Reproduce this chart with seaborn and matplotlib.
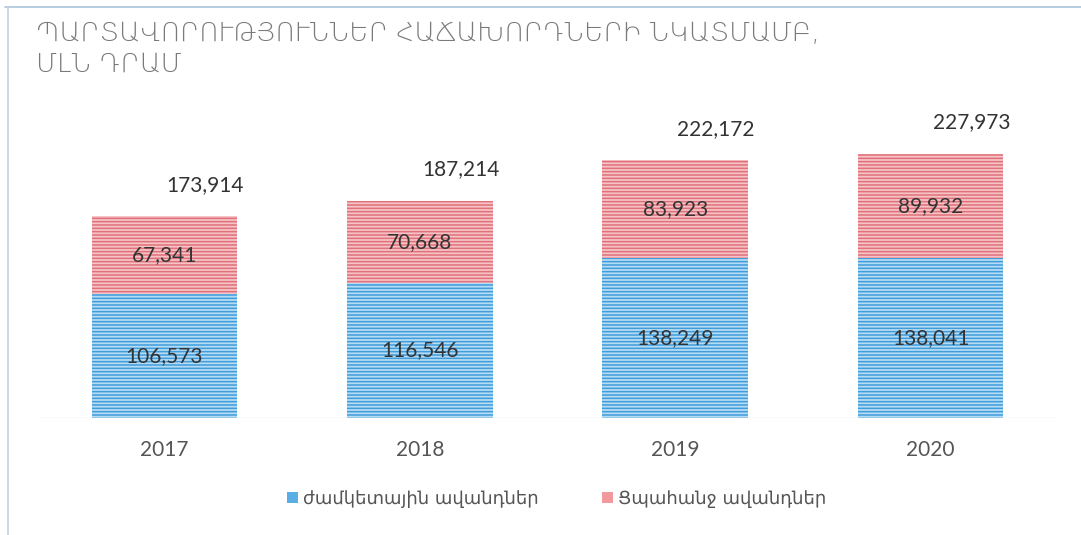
import matplotlib
matplotlib.use("Agg")
import matplotlib.pyplot as plt
from matplotlib.patches import Patch
from matplotlib.lines import Line2D
import pandas as pd
import seaborn as sns

years = ["2017", "2018", "2019", "2020"]
term_deposits = [106573, 116546, 138249, 138041]
demand_deposits = [67341, 70668, 83923, 89932]
totals = [173914, 187214, 222172, 227973]

title = "ՊԱՐՏԱՎՈՐՈՒԹՅՈՒՆՆԵՐ ՀԱՃԱԽՈՐԴՆԵՐԻ ՆԿԱՏՄԱՄԲ,\nՄԼՆ ԴՐԱՄ"
series_names = ["ժամկետային ավանդներ", "Ցպահանջ ավանդներ"]

df = pd.DataFrame({"year": years, "term": term_deposits,
                   "demand": demand_deposits, "total": totals})

sns.set_theme(style="white")
plt.rcParams["font.family"] = ["DejaVu Sans"]
plt.rcParams["hatch.linewidth"] = 1.1

fig = plt.figure(figsize=(10.81, 5.35), dpi=100)
ax = fig.add_axes([0.034, 0.2187, 0.945, 0.594])

# red = whole stack, blue drawn over it
sns.barplot(data=df, x="year", y="total", ax=ax, color="#f6c3c6",
            width=0.57, hatch="-----", edgecolor="#e0707a", linewidth=0,
            saturation=1)
sns.barplot(data=df, x="year", y="term", ax=ax, color="#b6dcf4",
            width=0.57, hatch="-----", edgecolor="#3f9ddc", linewidth=0,
            saturation=1)

num_font = ["Lato", "DejaVu Sans"]
for i, row in df.iterrows():
    ax.text(i, row["term"] / 2, f"{row['term']:,}", ha="center", va="center",
            fontsize=15, color="#333333", family=num_font)
    ax.text(i, row["term"] + row["demand"] / 2, f"{row['demand']:,}",
            ha="center", va="center", fontsize=15, color="#333333", family=num_font)
    ax.text(i + 0.16, row["total"] + 27000, f"{row['total']:,}", ha="center",
            va="center", fontsize=15, color="#333333", family=num_font)

ax.axhline(0, color="#e6e6e6", lw=1)
ax.set_xlim(-0.5, 3.5)
ax.set_ylim(0, 274000)
ax.set_yticks([])
ax.set_xlabel("")
ax.set_ylabel("")
ax.tick_params(axis="x", length=0, pad=16, labelsize=15, labelcolor="#555555")
for lab in ax.get_xticklabels():
    lab.set_family(num_font)
sns.despine(ax=ax, left=True, bottom=True)

fig.text(0.033, 0.96, title, ha="left", va="top", fontsize=19,
         color="#7a7a7a", linespacing=1.25, fontweight="light")

handles = [Patch(facecolor="#5aaee6", edgecolor="none"),
           Patch(facecolor="#f2999c", edgecolor="none")]
fig.legend(handles, series_names, loc="center", bbox_to_anchor=(0.515, 0.068),
           ncol=2, frameon=False, fontsize=13, handlelength=0.6,
           handleheight=0.6, handletextpad=0.3, columnspacing=3.5,
           labelcolor="#555555")

fig.add_artist(Line2D([5 / 1081, 1], [1 - 7 / 535, 1 - 7 / 535],
                      transform=fig.transFigure, color="#a9c4da", lw=1.2))
fig.add_artist(Line2D([8 / 1081, 8 / 1081], [0, 1 - 7 / 535],
                      transform=fig.transFigure, color="#c4d3e0", lw=1.2))

fig.savefig("out.png", dpi=100)
